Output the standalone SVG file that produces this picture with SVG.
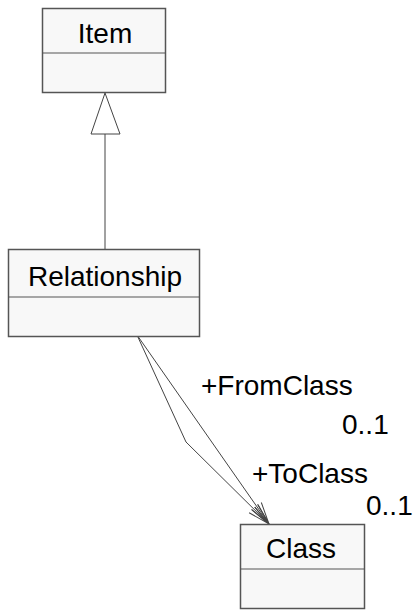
<svg xmlns="http://www.w3.org/2000/svg" width="415" height="613" viewBox="0 0 415 613">
  <style>
    .box { fill: #f8f8f8; stroke: #555555; stroke-width: 1.5; }
    .div { stroke: #555555; stroke-width: 1.2; fill: none; }
    .edge { stroke: #444444; stroke-width: 1; fill: none; }
    .name { font-family: "Liberation Sans", Arial, sans-serif; font-size: 28px; fill: #000000; text-anchor: middle; }
    .lbl { font-family: "Liberation Sans", Arial, sans-serif; font-size: 28px; fill: #000000; }
  </style>
  <defs>
    <marker id="open" markerUnits="userSpaceOnUse" markerWidth="30" markerHeight="20" refX="0" refY="0" viewBox="-25 -10 30 20" orient="auto" overflow="visible">
      <path d="M -22 -6 L 0 0 L -22 6 M -22 -2 L 0 0 L -22 2" stroke="#444444" stroke-width="1" fill="none"/>
    </marker>
  </defs>

  <g id="edges">
    <!-- generalization: Relationship to Item -->
    <line class="edge" x1="105" y1="134" x2="105" y2="249"/>
    <polygon points="105,93 91,134 120,134" fill="#ffffff" stroke="#444444" stroke-width="1"/>
    <!-- association +FromClass -->
    <polyline class="edge" points="137,335 269,524" marker-end="url(#open)"/>
    <!-- association +ToClass -->
    <polyline class="edge" points="137,335 186,442 269,524" marker-end="url(#open)"/>
    <text class="lbl" x="201" y="395">+FromClass</text>
    <text class="lbl" x="342" y="434">0..1</text>
    <text class="lbl" x="252" y="483">+ToClass</text>
    <text class="lbl" x="366" y="515">0..1</text>
  </g>

  <g id="item">
    <rect class="box" x="42.5" y="8.5" width="123" height="84"/>
    <line class="div" x1="42.5" y1="53" x2="165.5" y2="53"/>
    <text class="name" x="105" y="43">Item</text>
  </g>

  <g id="relationship">
    <rect class="box" x="8.5" y="249.5" width="191" height="87"/>
    <line class="div" x1="8.5" y1="297" x2="199.5" y2="297"/>
    <text class="name" x="105" y="286">Relationship</text>
  </g>

  <g id="class">
    <rect class="box" x="240.5" y="524.5" width="124" height="84"/>
    <line class="div" x1="240.5" y1="569" x2="364.5" y2="569"/>
    <text class="name" x="301" y="558">Class</text>
  </g>
</svg>
